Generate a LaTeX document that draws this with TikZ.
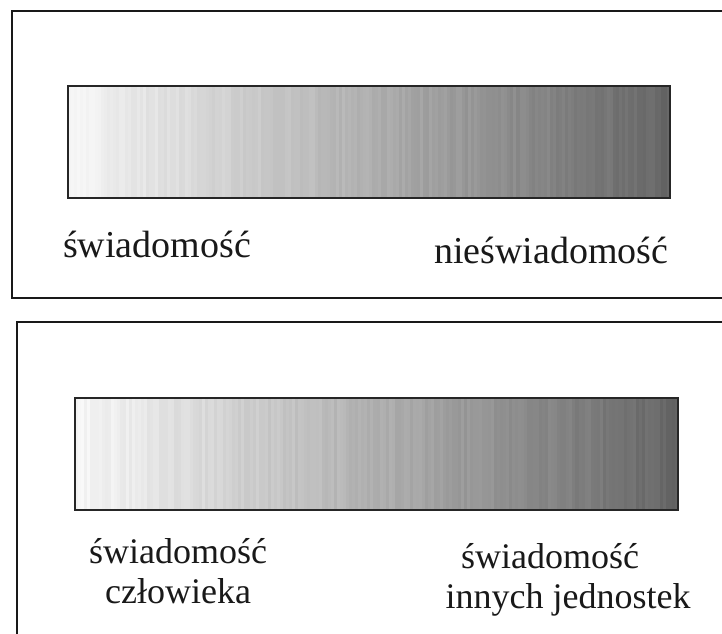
\documentclass[tikz,border=0pt]{standalone}
\usepackage{fontspec}
\setmainfont{Liberation Serif}
\tikzset{
  frame/.style={draw=black!90, line width=2.6pt},
  barframe/.style={draw=black!85, line width=2.6pt},
  label/.style={inner sep=0pt, font=\fontsize{38}{44}\selectfont, text=black!90},
  smalllabel/.style={label, font=\fontsize{36}{42}\selectfont}
}
% graded bar from light to dark, built of thin vertical strips
\newcommand{\gradbar}[4]{%
  \pgfmathsetmacro{\stripw}{(#3-#1)/200}
  \foreach \i in {0,...,199}{%
    \pgfmathsetmacro{\g}{max(0,3+57*\i/199+2.2*rand)}
    \fill[black!\g] ({#1+\i*\stripw},#2) rectangle ({#1+(\i+1)*\stripw+0.4},#4);
  }%
}
\begin{document}
\begin{tikzpicture}[x=1pt,y=-1pt]
  \pgfmathsetseed{11}
  \useasboundingbox (0,0) rectangle (722,633);
  \fill[white] (0,0) rectangle (722,633);
  \begin{scope}
    \clip (0,0) rectangle (722,633);
    % upper panel
    \draw[frame] (12,11) rectangle (730,298);
    \gradbar{68}{86}{670}{198}
    \draw[barframe] (68,86) rectangle (670,198);
    \node[label, anchor=base west] (sw1) at (63,257) {świadomość};
    \node[label, anchor=base west] (nsw) at (434,263) {nieświadomość};
    % lower panel
    \draw[frame] (17,322) rectangle (730,650);
    \gradbar{75}{398}{678}{510}
    \draw[barframe] (75,398) rectangle (678,510);
    \node[smalllabel, anchor=base] (sw2) at (178,563) {świadomość};
    \node[smalllabel, anchor=base] (czl) at (178,603) {człowieka};
    \node[smalllabel, anchor=base] (sw3) at (550,568) {świadomość};
    \node[smalllabel, anchor=base] (inj) at (568,608) {innych jednostek};
  \end{scope}
\end{tikzpicture}
\end{document}
